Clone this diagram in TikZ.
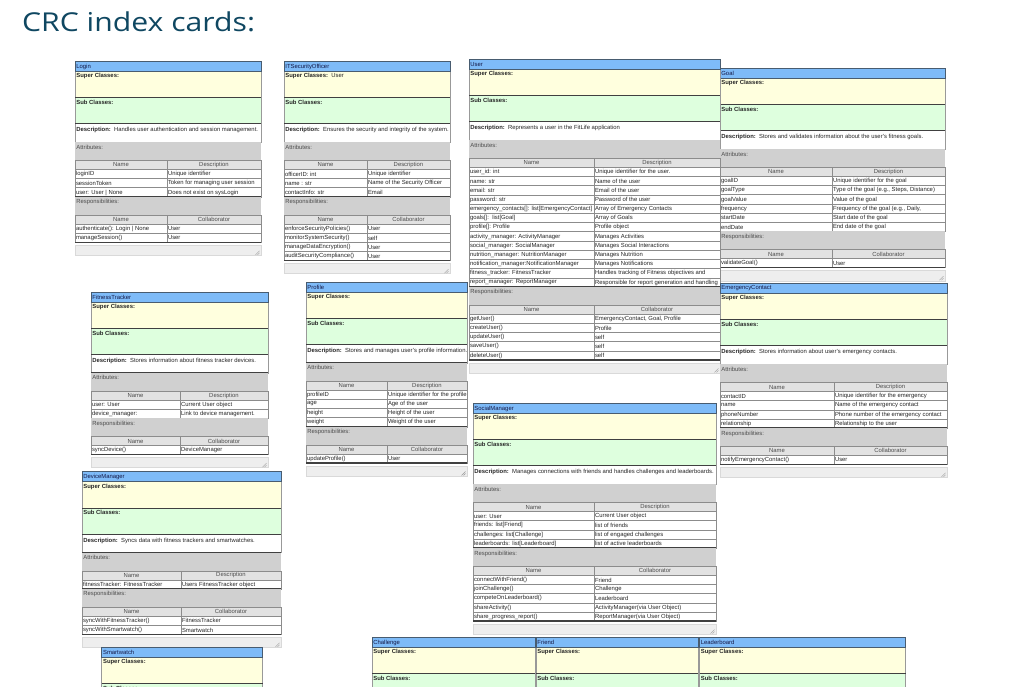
\documentclass[tikz,border=0pt]{standalone}
\usepackage{fontspec}
\setmainfont{Liberation Sans}
\newfontfamily\headfont{Open Sans}
\usepackage{xcolor}
\definecolor{crcblue}{RGB}{126,187,248}
\definecolor{crcblueline}{RGB}{72,92,112}
\definecolor{crcsuper}{RGB}{255,255,222}
\definecolor{crcsub}{RGB}{222,255,222}
\definecolor{crcband}{RGB}{208,208,208}
\definecolor{crchead}{RGB}{226,226,226}
\definecolor{crcgrip}{RGB}{238,238,238}
\definecolor{crcnavy}{RGB}{20,24,70}
\definecolor{headblue}{RGB}{15,71,97}

% card top: x, y, width, name column width, class, super classes, description
\newcommand{\crcstart}[7]{%
  \xdef\crcX{#1}\xdef\crcY{#2}\xdef\crcW{#3}\xdef\crcS{#4}%
  \fill[white] (\crcX,\crcY) rectangle (\crcX+\crcW,\crcY+81);
  \fill[crcsuper] (\crcX,\crcY+10) rectangle (\crcX+\crcW,\crcY+36.5);
  \fill[crcsub] (\crcX,\crcY+36.5) rectangle (\crcX+\crcW,\crcY+62.5);
  \draw[cardline] (\crcX,\crcY) rectangle (\crcX+\crcW,\crcY+81);
  \draw[titlebar] (\crcX,\crcY) rectangle (\crcX+\crcW,\crcY+10);
  \node[cardtext, anchor=west, text=crcnavy] (#5) at (\crcX+1.2,\crcY+5.2) {#5};
  \node[cardtext, anchor=north west] at (\crcX+1.2,\crcY+12) {\textbf{Super Classes:}\ \ #6};
  \node[cardtext, anchor=north west] at (\crcX+1.2,\crcY+38.8) {\textbf{Sub Classes:}};
  \node[cardtext, anchor=north west] at (\crcX+1.2,\crcY+66) {\textbf{Description:}\ \ #7};
  \draw[sepline] (\crcX,\crcY+36.5) -- ++(\crcW,0);
  \draw[sepline] (\crcX,\crcY+62.5) -- ++(\crcW,0);
  \draw[sepline] (\crcX,\crcY+81) -- ++(\crcW,0);
  \pgfmathsetmacro\crcTmp{\crcY+81}\xdef\crcCur{\crcTmp}%
}

% table section: band label, right column header, rows name/info
\newcommand{\crcsection}[3]{%
  \fill[crcband] (\crcX,\crcCur) rectangle (\crcX+\crcW,\crcCur+18);
  \node[cardtext, anchor=north west, text=black!70] at (\crcX+1.2,\crcCur+2.5) {#1};
  \draw[cellline, fill=crchead] (\crcX,\crcCur+18) rectangle (\crcX+\crcS,\crcCur+27);
  \draw[cellline, fill=crchead] (\crcX+\crcS,\crcCur+18) rectangle (\crcX+\crcW,\crcCur+27);
  \node[cardtext, text=black!70] at ({\crcX+\crcS/2},\crcCur+22.7) {Name};
  \node[cardtext, text=black!70] at ({\crcX+(\crcS+\crcW)/2},\crcCur+22.7) {#2};
  \foreach \rowname/\rowinfo [count=\rowi] in {#3} {
    \pgfmathsetmacro\rowy{\crcCur+27+(\rowi-1)*9.2}
    \draw[cellline, fill=white] (\crcX,\rowy) rectangle (\crcX+\crcS,\rowy+9.2);
    \draw[cellline, fill=white] (\crcX+\crcS,\rowy) rectangle (\crcX+\crcW,\rowy+9.2);
    \begin{scope}
      \clip (\crcX,\rowy) rectangle (\crcX+\crcS-0.4,\rowy+9.2);
      \node[cardtext, anchor=west] at (\crcX+0.8,\rowy+4.8) {\rowname};
    \end{scope}
    \begin{scope}
      \clip (\crcX+\crcS,\rowy) rectangle (\crcX+\crcW-0.4,\rowy+9.2);
      \node[cardtext, anchor=west] at (\crcX+\crcS+0.8,\rowy+4.8) {\rowinfo};
    \end{scope}
    \xdef\crcN{\rowi}
  }
  \pgfmathsetmacro\crcTmp{\crcCur+27+\crcN*9.2}\xdef\crcCur{\crcTmp}%
  \draw[sepline] (\crcX,\crcCur) -- ++(\crcW,0);
}

% resize bar under the card
\newcommand{\crcend}{%
  \draw[gripbar] (\crcX,\crcCur+3) rectangle (\crcX+\crcW,\crcCur+13);
  \draw[grip] (\crcX+\crcW-1.5,\crcCur+8.5) -- (\crcX+\crcW-5.5,\crcCur+12.5)
              (\crcX+\crcW-1.5,\crcCur+10.5) -- (\crcX+\crcW-3.5,\crcCur+12.5);
}

\begin{document}
\begin{tikzpicture}[
    x=1pt, y=-1pt,
    cardtext/.style={font=\fontsize{5.9}{6.5}\selectfont, inner sep=0pt, text=black!85},
    titlebar/.style={fill=crcblue, draw=crcblueline, line width=0.7pt},
    cardline/.style={draw=black!40, line width=0.5pt},
    cellline/.style={draw=black!45, line width=0.4pt},
    sepline/.style={draw=black!75, line width=1.3pt},
    gripbar/.style={fill=crcgrip, draw=black!15, line width=0.4pt},
    grip/.style={draw=black!40, line width=0.4pt}
]
\useasboundingbox (0,0) rectangle (1023,687);

% Heading
\node[font=\headfont\fontsize{26}{31}\selectfont, text=headblue, anchor=base west, inner sep=0pt] (title) at (22,32) {\scalebox{1.16}[1]{CRC index cards:}};

% Login
\crcstart{75}{61.3}{186}{92}{Login}{}{Handles user authentication and session management.}
\crcsection{Attributes:}{Description}{loginID/Unique identifier, sessionToken/Token for managing user session, user: User | None/Does not exist on sysLogin}
\crcsection{Responsibilities:}{Collaborator}{authenticate(): Login | None/User, manageSession()/User}
\crcend

% ITSecurityOfficer
\crcstart{284}{61.3}{166}{83}{ITSecurityOfficer}{User}{Ensures the security and integrity of the system.}
\crcsection{Attributes:}{Description}{officerID: int/Unique identifier, name : str/Name of the Security Officer, contactInfo: str/Email}
\crcsection{Responsibilities:}{Collaborator}{enforceSecurityPolicies()/User, monitorSystemSecurity()/self, manageDataEncryption()/User, auditSecurityCompliance()/User}
\crcend

% Goal
\crcstart{720}{68.3}{225}{112}{Goal}{}{Stores and validates information about the user's fitness goals.}
\crcsection{Attributes:}{Description}{goalID/Unique identifier for the goal, goalType/{Type of the goal (e.g., Steps, Distance)}, goalValue/Value of the goal, frequency/{Frequency of the goal (e.g., Daily,}, startDate/Start date of the goal, endDate/End date of the goal}
\crcsection{Responsibilities:}{Collaborator}{validateGoal()/User}
\crcend

% User
\crcstart{469}{59.3}{251}{125}{User}{}{Represents a user in the FitLife application}
\crcsection{Attributes:}{Description}{user\_id: int/Unique identifier for the user., name: str/Name of the user, email: str/Email of the user, password: str/Password of the user, emergency\_contacts[]: list[EmergencyContact]/Array of Emergency Contacts, goals[]:\ \ list[Goal]/Array of Goals, profile[]: Profile/Profile object, activity\_manager: ActivityManager/Manages Activities, social\_manager: SocialManager/Manages Social Interactions, nutrition\_manager: NutritionManager/Manages Nutrition, notification\_manager:NotificationManager/Manages Notifications, fitness\_tracker: FitnessTracker/Handles tracking of Fitness objectives and, report\_manager: ReportManager/Responsible for report generation and handling}
\crcsection{Responsibilities:}{Collaborator}{getUser()/{EmergencyContact, Goal, Profile}, createUser()/Profile, updateUser()/self, saveUser()/self, deleteUser()/self}
\crcend

% FitnessTracker
\crcstart{91}{292}{177}{89}{FitnessTracker}{}{Stores information about fitness tracker devices.}
\crcsection{Attributes:}{Description}{user: User/Current User object, device\_manager:/Link to device management.}
\crcsection{Responsibilities:}{Collaborator}{syncDevice()/DeviceManager}
\crcend

% Profile
\crcstart{306}{282}{161}{81}{Profile}{}{Stores and manages user's profile information.}
\crcsection{Attributes:}{Description}{profileID/Unique identifier for the profile, age/Age of the user, height/Height of the user, weight/Weight of the user}
\crcsection{Responsibilities:}{Collaborator}{updateProfile()/User}
\crcend

% EmergencyContact
\crcstart{720}{283.3}{227}{114}{EmergencyContact}{}{Stores information about user's emergency contacts.}
\crcsection{Attributes:}{Description}{contactID/Unique identifier for the emergency, name/Name of the emergency contact, phoneNumber/Phone number of the emergency contact, relationship/Relationship to the user}
\crcsection{Responsibilities:}{Collaborator}{notifyEmergencyContact()/User}
\crcend

% SocialManager
\crcstart{473}{403.3}{243}{121}{SocialManager}{}{Manages connections with friends and handles challenges and leaderboards.}
\crcsection{Attributes:}{Description}{user: User/Current User object, friends: list[Friend]/list of friends, challenges: list[Challenge]/list of engaged challenges, leaderboards: list[Leaderboard]/list of active leaderboards}
\crcsection{Responsibilities:}{Collaborator}{connectWithFriend()/Friend, joinChallenge()/Challenge, competeOnLeaderboard()/Leaderboard, shareActivity()/ActivityManager(via User Object), share\_progress\_report()/ReportManager(via User Object)}
\crcend

% DeviceManager
\crcstart{82}{471.7}{199}{99}{DeviceManager}{}{Syncs data with fitness trackers and smartwatches.}
\crcsection{Attributes:}{Description}{fitnessTracker: FitnessTracker/Users FitnessTracker object}
\crcsection{Responsibilities:}{Collaborator}{syncWithFitnessTracker()/FitnessTracker, syncWithSmartwatch()/Smartwatch}
\crcend

% cards cut by the page edge
\crcstart{101.7}{647.3}{161}{80}{Smartwatch}{}{}
\crcstart{372}{637.3}{163}{81}{Challenge}{}{}
\crcstart{536}{637.3}{162}{81}{Friend}{}{}
\crcstart{699.5}{637.3}{206}{103}{Leaderboard}{}{}
\end{tikzpicture}
\end{document}
